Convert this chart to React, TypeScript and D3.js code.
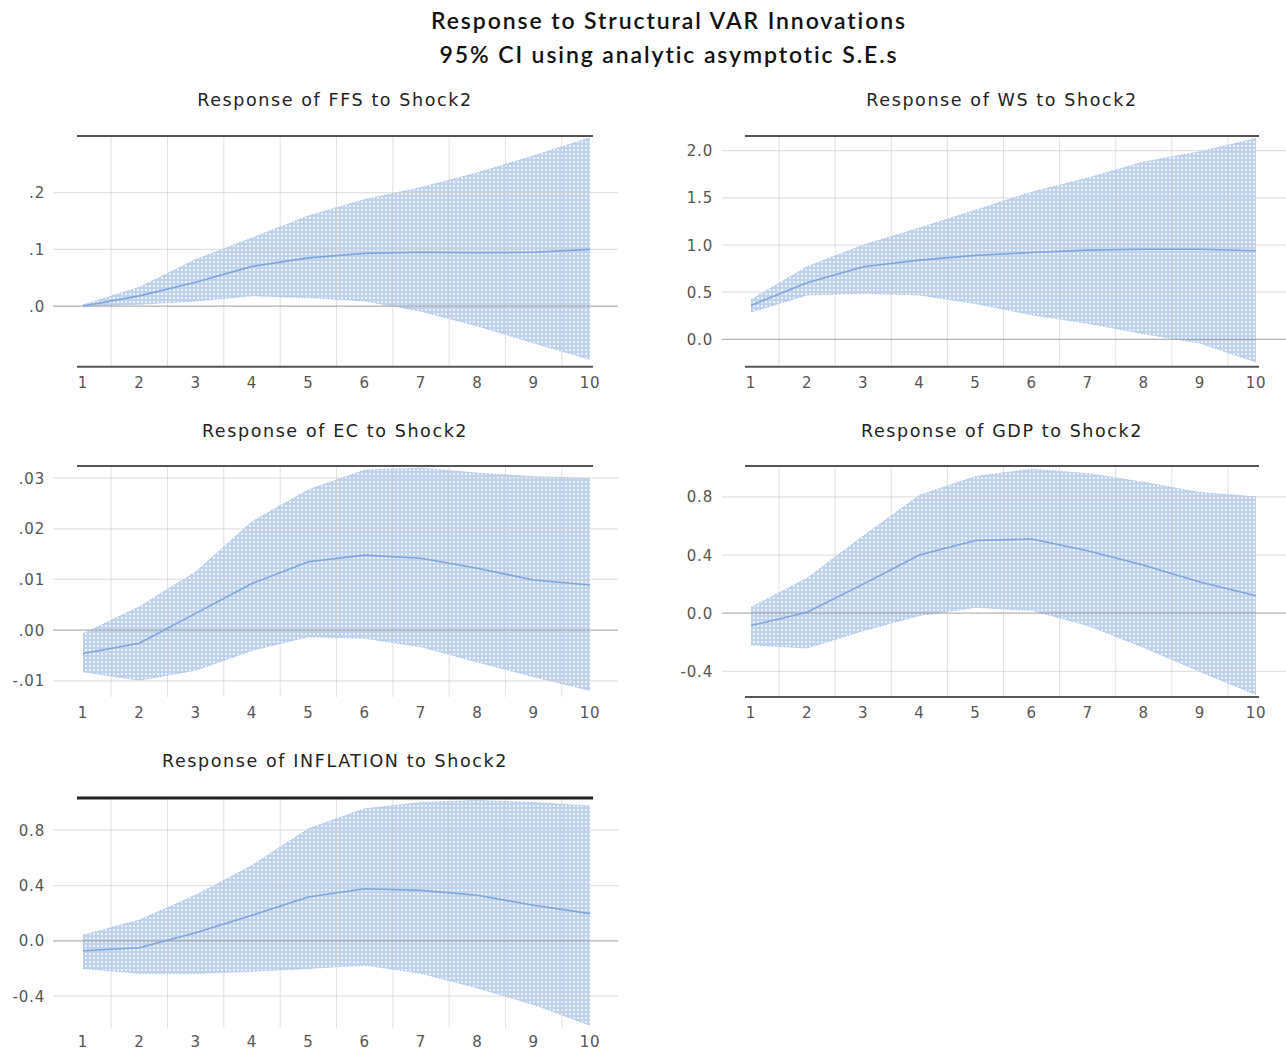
import React, { useEffect, useRef } from "react";
import * as d3 from "d3";

// --- data ---
const periods = [1, 2, 3, 4, 5, 6, 7, 8, 9, 10];

const ffsResp = [0.0, 0.018, 0.042, 0.07, 0.085, 0.093, 0.095, 0.094, 0.095, 0.1];
const ffsUpper = [0.002, 0.033, 0.082, 0.12, 0.159, 0.188, 0.209, 0.235, 0.265, 0.297];
const ffsLower = [0.0, 0.003, 0.009, 0.018, 0.015, 0.009, -0.009, -0.035, -0.065, -0.094];

const wsResp = [0.36, 0.6, 0.77, 0.84, 0.89, 0.92, 0.946, 0.955, 0.955, 0.94];
const wsUpper = [0.42, 0.77, 1.0, 1.18, 1.37, 1.56, 1.71, 1.88, 1.99, 2.13];
const wsLower = [0.29, 0.47, 0.49, 0.47, 0.38, 0.26, 0.17, 0.06, -0.04, -0.24];

const ecResp = [-0.0046, -0.0026, 0.0033, 0.0092, 0.0135, 0.0148, 0.0142, 0.0122, 0.0099, 0.0089];
const ecUpper = [-0.0007, 0.0046, 0.0115, 0.0214, 0.0277, 0.0316, 0.032, 0.031, 0.0303, 0.03];
const ecLower = [-0.0082, -0.0099, -0.0079, -0.004, -0.0013, -0.0016, -0.0033, -0.0063, -0.0092, -0.0119];

const gdpResp = [-0.085, 0.007, 0.2, 0.4, 0.5, 0.51, 0.43, 0.33, 0.215, 0.12];
const gdpUpper = [0.04, 0.24, 0.53, 0.81, 0.94, 0.99, 0.96, 0.9, 0.83, 0.8];
const gdpLower = [-0.217, -0.24, -0.12, -0.016, 0.04, 0.02, -0.085, -0.235, -0.4, -0.56];

const inflResp = [-0.072, -0.05, 0.058, 0.185, 0.317, 0.377, 0.365, 0.33, 0.257, 0.197];
const inflUpper = [0.041, 0.15, 0.33, 0.545, 0.81, 0.955, 1.0, 1.015, 1.0, 0.975];
const inflLower = [-0.2, -0.235, -0.235, -0.22, -0.2, -0.175, -0.235, -0.34, -0.46, -0.61];

// y ticks and their EViews-style labels
const ffsTicks = [0.2, 0.1, 0.0];
const ffsTickLabels = [".2", ".1", ".0"];
const wsTicks = [2.0, 1.5, 1.0, 0.5, 0.0];
const wsTickLabels = ["2.0", "1.5", "1.0", "0.5", "0.0"];
const ecTicks = [0.03, 0.02, 0.01, 0.0, -0.01];
const ecTickLabels = [".03", ".02", ".01", ".00", "-.01"];
const gdpTicks = [0.8, 0.4, 0.0, -0.4];
const gdpTickLabels = ["0.8", "0.4", "0.0", "-0.4"];
const inflTicks = [0.8, 0.4, 0.0, -0.4];
const inflTickLabels = ["0.8", "0.4", "0.0", "-0.4"];

// y extents of each frame
const ffsDomain = [-0.107, 0.3];
const wsDomain = [-0.29, 2.156];
const ecDomain = [-0.0132, 0.0324];
const gdpDomain = [-0.576, 1.012];
const inflDomain = [-0.63, 1.033];

const panelTitles = [
  "Response of FFS to Shock2",
  "Response of WS to Shock2",
  "Response of EC to Shock2",
  "Response of GDP to Shock2",
  "Response of INFLATION to Shock2",
];

const WIDTH = 1286;
const HEIGHT = 1050;

export default function App() {
  const svgRef = useRef(null);

  useEffect(() => {
    const svg = d3.select(svgRef.current);
    svg.selectAll("*").remove();

    // --- dotted band fill ---
    const defs = svg.append("defs");
    const pat = defs.append("pattern")
      .attr("id", "ciDots")
      .attr("width", 4)
      .attr("height", 4)
      .attr("patternUnits", "userSpaceOnUse");
    pat.append("rect").attr("width", 4).attr("height", 4).attr("fill", "#bed2ee");
    pat.append("rect").attr("x", 1).attr("y", 1).attr("width", 2).attr("height", 2).attr("fill", "#eef3fb");

    // --- main title ---
    const titleLines = [
      { text: "Response to Structural VAR Innovations", y: 29 },
      { text: "95% CI using analytic asymptotic S.E.s", y: 63 },
    ];
    svg.selectAll(".mtitle")
      .data(titleLines)
      .join("text")
      .attr("x", 669).attr("y", d => d.y)
      .attr("text-anchor", "middle")
      .attr("font-family", "Lato, 'Open Sans', sans-serif")
      .attr("font-weight", 600)
      .attr("font-size", 23)
      .attr("letter-spacing", 1.9)
      .attr("fill", "#111")
      .text(d => d.text);

    const left = { x0: 83, x1: 590, gridL: 53, gridR: 618, labelX: 45, titleX: 335 };
    const right = { x0: 751, x1: 1256, gridL: 722, gridR: 1286, labelX: 713, titleX: 1002 };
    const row1 = { top: 136, bottom: 366.7, titleY: 106 };
    const row2 = { top: 466, bottom: 697, titleY: 437 };
    const row3 = { top: 798, bottom: 1028, titleY: 767 };

    const panels = [
      { col: left, row: row1, title: panelTitles[0], resp: ffsResp, up: ffsUpper, lo: ffsLower, ticks: ffsTicks, labels: ffsTickLabels, domain: ffsDomain, bottomLine: true, topW: 2, topC: "#555" },
      { col: right, row: row1, title: panelTitles[1], resp: wsResp, up: wsUpper, lo: wsLower, ticks: wsTicks, labels: wsTickLabels, domain: wsDomain, bottomLine: true, topW: 2, topC: "#555" },
      { col: left, row: row2, title: panelTitles[2], resp: ecResp, up: ecUpper, lo: ecLower, ticks: ecTicks, labels: ecTickLabels, domain: ecDomain, bottomLine: false, topW: 2, topC: "#555" },
      { col: right, row: row2, title: panelTitles[3], resp: gdpResp, up: gdpUpper, lo: gdpLower, ticks: gdpTicks, labels: gdpTickLabels, domain: gdpDomain, bottomLine: true, topW: 2, topC: "#555" },
      { col: left, row: row3, title: panelTitles[4], resp: inflResp, up: inflUpper, lo: inflLower, ticks: inflTicks, labels: inflTickLabels, domain: inflDomain, bottomLine: false, topW: 3, topC: "#222" },
    ];

    panels.forEach(p => {
      const g = svg.append("g");
      const x = d3.scaleLinear().domain([1, 10]).range([p.col.x0, p.col.x1]);
      const y = d3.scaleLinear().domain(p.domain).range([p.row.bottom, p.row.top]);

      // panel title
      g.append("text")
        .attr("x", p.col.titleX).attr("y", p.row.titleY)
        .attr("text-anchor", "middle")
        .attr("font-family", "'DejaVu Sans', sans-serif")
        .attr("font-size", 17.5)
        .attr("letter-spacing", 1.6)
        .attr("fill", "#222")
        .text(p.title);

      // CI band
      const rows = periods.map((t, i) => ({ t, up: p.up[i], lo: p.lo[i], v: p.resp[i] }));
      g.append("path")
        .datum(rows)
        .attr("d", d3.area().x(d => x(d.t)).y0(d => y(d.lo)).y1(d => y(d.up)))
        .attr("fill", "url(#ciDots)");
      ["up", "lo"].forEach(k => {
        g.append("path")
          .datum(rows)
          .attr("d", d3.line().x(d => x(d.t)).y(d => y(d[k])))
          .attr("fill", "none")
          .attr("stroke", "#9fbce6")
          .attr("stroke-width", 1)
          .attr("stroke-dasharray", "1.5 1.5");
      });

      // vertical grid at half periods
      const halves = periods.slice(0, 9).map(t => t + 0.5);
      g.selectAll(".vgrid")
        .data(halves)
        .join("line")
        .attr("x1", d => x(d)).attr("x2", d => x(d))
        .attr("y1", p.row.top).attr("y2", p.row.bottom)
        .attr("stroke", "#c8c8c8")
        .attr("stroke-opacity", 0.55)
        .attr("stroke-width", 1);

      // horizontal grid + y labels
      g.selectAll(".hgrid")
        .data(p.ticks)
        .join("line")
        .attr("x1", p.col.gridL).attr("x2", p.col.gridR)
        .attr("y1", d => y(d)).attr("y2", d => y(d))
        .attr("stroke", d => d === 0 ? "#9a9a9a" : "#cfcfcf")
        .attr("stroke-opacity", d => d === 0 ? 0.75 : 0.6)
        .attr("stroke-width", 1.2);

      g.selectAll(".ylab")
        .data(p.ticks)
        .join("text")
        .attr("x", p.col.labelX)
        .attr("y", d => y(d) + 5.5)
        .attr("text-anchor", "end")
        .attr("font-family", "'DejaVu Sans', sans-serif")
        .attr("font-size", 15)
        .attr("letter-spacing", 0.8)
        .attr("fill", "#555")
        .text((d, i) => p.labels[i]);

      // response line
      g.append("path")
        .datum(rows)
        .attr("d", d3.line().x(d => x(d.t)).y(d => y(d.v)))
        .attr("fill", "none")
        .attr("stroke", "#7ea5dc")
        .attr("stroke-width", 1.6);

      // frame lines
      g.append("line")
        .attr("x1", p.col.x0 - 6).attr("x2", p.col.x1 + 3)
        .attr("y1", p.row.top).attr("y2", p.row.top)
        .attr("stroke", p.topC).attr("stroke-width", p.topW);
      if (p.bottomLine) {
        g.append("line")
          .attr("x1", p.col.x0 - 6).attr("x2", p.col.x1 + 3)
          .attr("y1", p.row.bottom).attr("y2", p.row.bottom)
          .attr("stroke", "#555").attr("stroke-width", 2);
      }

      // x labels
      g.selectAll(".xlab")
        .data(periods)
        .join("text")
        .attr("x", d => x(d))
        .attr("y", Math.min(p.row.bottom + 21, HEIGHT - 3))
        .attr("text-anchor", "middle")
        .attr("font-family", "'DejaVu Sans', sans-serif")
        .attr("font-size", 15)
        .attr("letter-spacing", 0.8)
        .attr("fill", "#555")
        .text(d => String(d));
    });
  }, []);

  return (
    <svg
      ref={svgRef}
      width={WIDTH}
      height={HEIGHT}
      style={{ position: "absolute", left: 0, top: 0, background: "#fff" }}
    />
  );
}
